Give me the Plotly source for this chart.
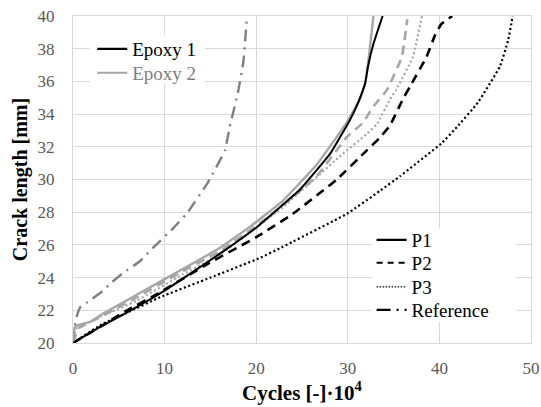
import plotly.graph_objects as go

# ---- data (cycles in 1e4, crack length in mm) ----
e1_p1_x = [0, 3, 6, 10, 16.4, 20.1, 24.8, 28.1, 30.2, 31.2, 31.9, 32.2, 32.8, 33.8]
e1_p1_y = [20, 21.0, 21.9, 23.2, 25.6, 27.1, 29.4, 31.6, 33.6, 34.8, 35.9, 36.9, 38.3, 40]

e2_p1_x = [0, 0.2, 1.9, 3.3, 10.3, 15.7, 19.3, 22.9, 26.6, 29.9, 31.3, 31.9, 32.3, 32.8]
e2_p1_y = [20, 21.0, 21.3, 21.8, 24.0, 25.7, 27.1, 28.7, 30.9, 33.5, 34.9, 35.9, 37.5, 40]

e1_p2_x = [0, 3, 5.9, 9.5, 14.9, 20.1, 24.0, 28.8, 32.1, 33.4, 34.6, 36.0, 36.8, 38.6, 39.5, 40.2, 41.4]
e1_p2_y = [20, 21.0, 22.0, 23.1, 24.9, 26.5, 27.9, 30.0, 31.8, 32.5, 33.3, 34.9, 35.7, 37.5, 38.8, 39.5, 40]

e2_p2_x = [0, 0.6, 3, 7, 12, 16, 21.8, 26.6, 29.9, 31.7, 32.7, 34.3, 35.9, 36.5]
e2_p2_y = [20, 20.9, 21.6, 22.8, 24.4, 25.6, 27.9, 30.2, 32.6, 33.5, 34.4, 35.5, 37.5, 39.8]

e1_p3_x = [0, 3, 5.9, 9.5, 15.0, 20.4, 22.6, 29.9, 33.5, 35.7, 40.2, 41.9, 44.2, 46.6, 47.5, 48.0]
e1_p3_y = [20, 21.1, 21.85, 22.8, 24.0, 25.2, 25.8, 27.9, 29.3, 30.2, 32.2, 33.2, 34.7, 36.9, 38.5, 40]

e2_p3_x = [0, 0.4, 3, 7, 12, 16, 22.9, 29.1, 32.1, 33.2, 34.6, 35.3, 37.1, 38.1]
e2_p3_y = [20, 20.9, 21.6, 22.6, 24.2, 25.4, 28.3, 31.4, 32.8, 33.4, 34.9, 35.5, 37.5, 40]

ref_x = [0, 0.2, 0.4, 0.8, 1.6, 3.3, 4.0, 5.5, 7.3, 8.7, 10.9, 12.4, 14.7, 16.6, 17.1, 18.0, 18.6, 19.0]
ref_y = [20, 21.0, 21.6, 22.2, 22.5, 23.2, 23.6, 24.3, 25.0, 25.8, 27.0, 27.9, 29.8, 31.8, 33.2, 35.3, 37.2, 40]

x_ticks = [0, 10, 20, 30, 40, 50]
y_ticks = [20, 22, 24, 26, 28, 30, 32, 34, 36, 38, 40]

FONT = "Liberation Serif, Times New Roman, serif"
BLACK = "#000000"
GRAY = "#a6a6a6"
REFC = "#7f7f7f"
DOT = "2px,2.6px"
DASH = "9px,6px"
DASHDOT = "12px,6px,2px,6px"

fig = go.Figure()

def add(x, y, color, dash, width):
    fig.add_trace(go.Scatter(x=x, y=y, mode="lines", showlegend=False,
                             line=dict(color=color, dash=dash, width=width, shape="spline", smoothing=0.3),
                             hoverinfo="skip"))

add(e1_p3_x, e1_p3_y, BLACK, DOT, 2.2)
add(e2_p3_x, e2_p3_y, GRAY, DOT, 2.2)
add(e1_p2_x, e1_p2_y, BLACK, DASH, 2.6)
add(e2_p2_x, e2_p2_y, GRAY, DASH, 2.6)
add(ref_x, ref_y, REFC, DASHDOT, 2.4)
add(e2_p1_x, e2_p1_y, GRAY, "solid", 2.4)
add(e1_p1_x, e1_p1_y, BLACK, "solid", 2.0)

# legend entries, one legend each for exact vertical spacing
legend_items = [
    ("Epoxy 1", dict(color=BLACK, width=2.2), 0.042, 0.899),
    ("<span style='color:#808080'>Epoxy 2</span>", dict(color=GRAY, width=2.2), 0.042, 0.826),
    ("P1", dict(color=BLACK, width=2.2), 0.652, 0.315),
    ("P2", dict(color=BLACK, width=2.2, dash="6px,5px"), 0.652, 0.245),
    ("P3", dict(color=BLACK, width=1.2, dash="1.5px,1.5px"), 0.652, 0.171),
    ("Reference", dict(color=BLACK, width=2.2, dash="14px,6px,2px,6px"), 0.652, 0.101),
]
legend_layout = {}
for i, (name, line, lx, ly) in enumerate(legend_items):
    key = "legend" if i == 0 else f"legend{i + 1}"
    fig.add_trace(go.Scatter(x=[None], y=[None], mode="lines", name=name, line=line, legend=key))
    legend_layout[key] = dict(x=lx, y=ly, xanchor="left", yanchor="middle",
                              bgcolor="rgba(0,0,0,0)", itemwidth=30,
                              font=dict(family=FONT, size=19, color="black"))

# white backgrounds behind the two legend blocks
fig.add_shape(type="rect", xref="paper", yref="paper", x0=0.037, x1=0.288, y0=0.794, y1=0.942,
              fillcolor="white", line=dict(width=0), layer="above")
fig.add_shape(type="rect", xref="paper", yref="paper", x0=0.653, x1=0.967, y0=0.064, y1=0.352,
              fillcolor="white", line=dict(width=0), layer="above")

axis_common = dict(
    showgrid=True, gridcolor="#d9d9d9", gridwidth=1,
    showline=True, linecolor="#d9d9d9", linewidth=1, mirror=True,
    zeroline=False, tickfont=dict(family=FONT, size=17, color="#595959"),
    ticks="outside", tickcolor="rgba(0,0,0,0)", automargin=False,
)

fig.update_layout(
    width=541, height=407,
    margin=dict(l=73, r=10, t=16, b=64),
    paper_bgcolor="white", plot_bgcolor="white",
    font=dict(family=FONT, color="black"),
    hovermode=False,
    xaxis=dict(range=[0, 50], tickvals=x_ticks, ticklen=10,
               title=dict(text="<b>Cycles [-]·10<sup>4</sup></b>", font=dict(family=FONT, size=21, color="black"),
                          standoff=4),
               **axis_common),
    yaxis=dict(range=[20, 40], tickvals=y_ticks, ticklen=14,
               title=dict(text="<b>Crack length [mm]</b>", font=dict(family=FONT, size=20, color="black"),
                          standoff=4),
               **axis_common),
    showlegend=True,
    **legend_layout,
)

fig.write_html("out.html", config={"displayModeBar": False},
               post_script="document.body.style.margin='0';")
